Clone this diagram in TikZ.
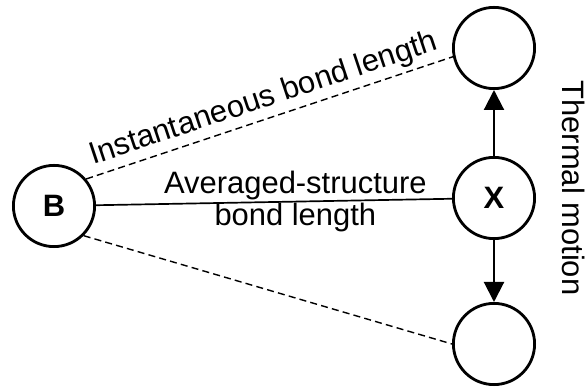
\documentclass[tikz,border=0pt]{standalone}
\usepackage{fontspec}
\setmainfont{Liberation Sans}
\usetikzlibrary{arrows.meta}
\begin{document}
\begin{tikzpicture}[every node/.style={font=\fontsize{22}{23}\selectfont},
  atom/.style={draw, circle, line width=2pt, minimum size=2.03cm, inner sep=0pt, font=\fontsize{22}{23}\selectfont\bfseries},
  inst/.style={line width=1pt, dash pattern=on 5pt off 3pt},
  move/.style={-{Triangle[length=0.5cm, width=0.5cm]}, line width=1.5pt}]
\useasboundingbox (0,0) rectangle (14.625,9.675);
\node[atom] (B) at (1.35,4.525) {B};
\node[atom] (X) at (12.35,4.725) {X};
\node[atom] (up) at (12.35,8.475) {};
\node[atom] (down) at (12.35,1.075) {};
\draw[line width=1.2pt] (B) -- (X) node[pos=0.56, align=center] {Averaged-structure\\bond length};
\draw[inst] (B.40) -- (up.-168) node[midway, above, sloped, inner sep=3pt] {Instantaneous bond length};
\draw[inst] (B.-45) -- (down.180);
\draw[move] (X) -- (up);
\draw[move] (X) -- (down);
\node[rotate=-90, anchor=base] (thermal) at (14.05,4.975) {Thermal motion};
\end{tikzpicture}
\end{document}
